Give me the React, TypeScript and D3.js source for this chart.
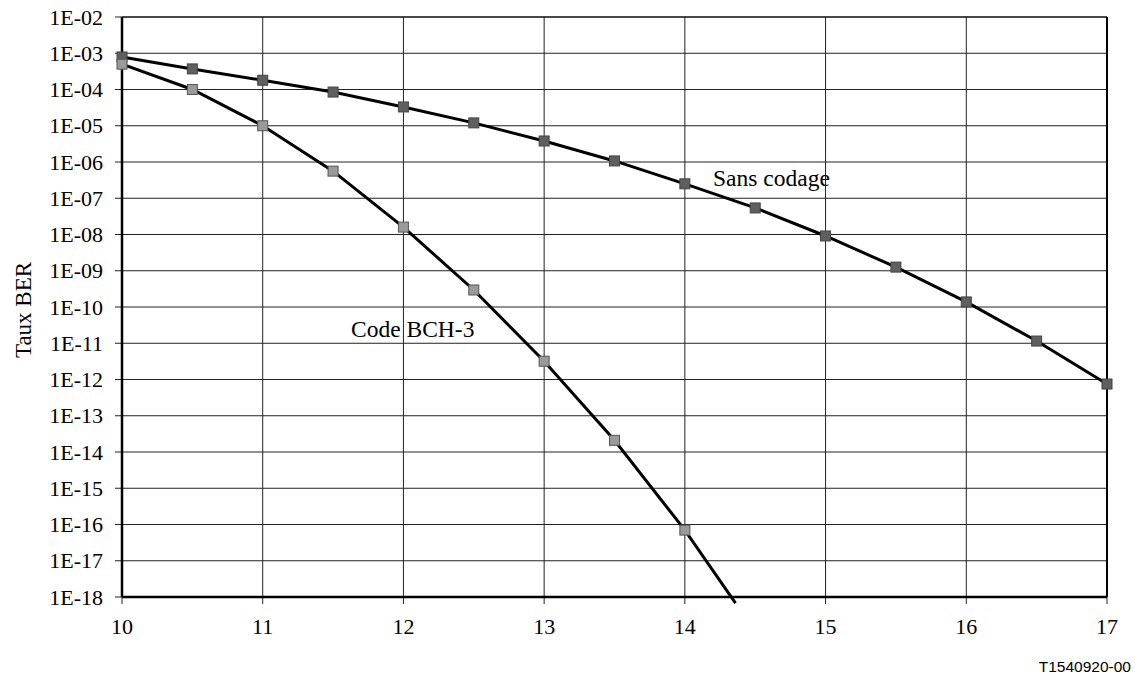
import React from "react";
import * as d3 from "d3";

const xTicks = [10, 11, 12, 13, 14, 15, 16, 17];
const yExps = [-2, -3, -4, -5, -6, -7, -8, -9, -10, -11, -12, -13, -14, -15, -16, -17, -18];

const snrUncoded = [10, 10.5, 11, 11.5, 12, 12.5, 13, 13.5, 14, 14.5, 15, 15.5, 16, 16.5, 17];
const berUncoded = [7.9e-4, 3.7e-4, 1.8e-4, 8.5e-5, 3.3e-5, 1.2e-5, 3.8e-6, 1.07e-6, 2.5e-7, 5.4e-8, 9.1e-9, 1.26e-9, 1.38e-10, 1.15e-11, 7.5e-13];

const snrBch = [10, 10.5, 11, 11.5, 12, 12.5, 13, 13.5, 14];
const berBch = [5e-4, 1e-4, 1e-5, 5.6e-7, 1.6e-8, 2.95e-10, 3.2e-12, 2.1e-14, 7e-17];
const bchLineEnd = { snr: 14.36, ber: 6.8e-19 };

const W = 1135, H = 675;
const left = 122, right = 1107, top = 17, bottom = 597;

export default function App() {
  const x = d3.scaleLinear().domain([10, 17]).range([left, right]);
  const y = d3.scaleLog().domain([1e-18, 1e-2]).range([bottom, top]);
  const line = d3.line<[number, number]>().x((d) => x(d[0])).y((d) => y(d[1]));
  const uncoded: [number, number][] = snrUncoded.map((s, i) => [s, berUncoded[i]]);
  const bch: [number, number][] = snrBch.map((s, i) => [s, berBch[i]]);
  const bchLine: [number, number][] = [...bch, [bchLineEnd.snr, bchLineEnd.ber]];
  const font = "'Liberation Serif', 'Times New Roman', serif";
  const ms = 10;
  return (
    <svg width={W} height={H} style={{ position: "absolute", left: 0, top: 0 }}>
      <rect width={W} height={H} fill="#fff" />
      {yExps.map((e) => (
        <g key={e}>
          <line x1={left - 7} x2={right} y1={y(Math.pow(10, e))} y2={y(Math.pow(10, e))} stroke="#222" strokeWidth={1} />
          <text x={103} y={y(Math.pow(10, e))} dy="0.35em" textAnchor="end" fontFamily={font} fontSize={22} fill="#000">
            {`1E-${String(-e).padStart(2, "0")}`}
          </text>
        </g>
      ))}
      {xTicks.map((t) => (
        <g key={t}>
          <line x1={x(t)} x2={x(t)} y1={top} y2={bottom + 7} stroke="#222" strokeWidth={1} />
          <text x={x(t)} y={634} textAnchor="middle" fontFamily={font} fontSize={22} fill="#000">{t}</text>
        </g>
      ))}
      <line x1={left} x2={left} y1={top} y2={bottom} stroke="#000" strokeWidth={2.5} />
      <line x1={left} x2={right} y1={bottom} y2={bottom} stroke="#000" strokeWidth={2.5} />
      <line x1={right} x2={right} y1={top} y2={bottom} stroke="#000" strokeWidth={2} />
      <line x1={left} x2={right} y1={top} y2={top} stroke="#000" strokeWidth={1.2} />
      <path d={line(uncoded) || ""} fill="none" stroke="#000" strokeWidth={3} />
      <path d={line(bchLine) || ""} fill="none" stroke="#000" strokeWidth={3} />
      {uncoded.map((d, i) => (
        <rect key={"u" + i} x={x(d[0]) - ms / 2} y={y(d[1]) - ms / 2} width={ms} height={ms} fill="#5f5f5f" stroke="#444" strokeWidth={1} />
      ))}
      {bch.map((d, i) => (
        <rect key={"b" + i} x={x(d[0]) - ms / 2} y={y(d[1]) - ms / 2} width={ms} height={ms} fill="#9a9a9a" stroke="#555" strokeWidth={1} />
      ))}
      <text x={713} y={186} fontFamily={font} fontSize={23.5} fill="#000">Sans codage</text>
      <text x={351} y={337} fontFamily={font} fontSize={23.5} fill="#000">Code BCH-3</text>
      <text transform={`translate(31, 310) rotate(-90)`} textAnchor="middle" fontFamily={font} fontSize={23} fill="#000">Taux BER</text>
      <text x={1131} y={672} textAnchor="end" fontFamily="'Liberation Sans', Arial, sans-serif" fontSize={15.5} fill="#000">T1540920-00</text>
    </svg>
  );
}
